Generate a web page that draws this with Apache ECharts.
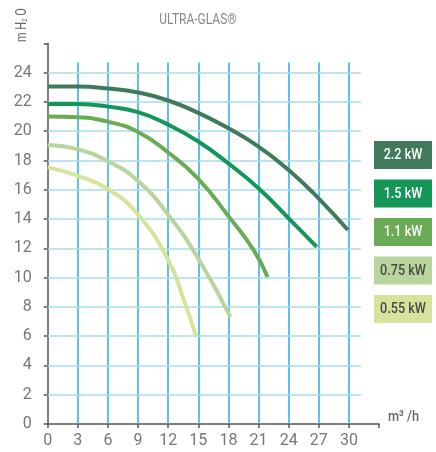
<!DOCTYPE html>
<html>
<head>
<meta charset="utf-8">
<script src="https://cdn.jsdelivr.net/npm/echarts@6/dist/echarts.min.js"></script>
<style>html,body{margin:0;padding:0;background:#fff}#c{width:436px;height:452px}</style>
</head>
<body>
<div id="c"></div>
<script>
// ---- data ----
const seriesNames = ['2.2 kW', '1.5 kW', '1.1 kW', '0.75 kW', '0.55 kW'];
const flow22 = [0, 3, 6, 9, 12, 15, 18, 21, 24, 27, 29.9];
const head22 = [23.05, 23.05, 22.92, 22.65, 22.1, 21.25, 20.2, 18.95, 17.35, 15.4, 13.25];
const flow15 = [0, 3, 6, 9, 12, 15, 18, 21, 24, 26.8];
const head15 = [21.86, 21.86, 21.68, 21.3, 20.45, 19.3, 17.8, 16.1, 14.05, 12.1];
const flow11 = [0, 3, 6, 9, 12, 15, 18, 20.5, 21.9];
const head11 = [21.0, 20.95, 20.65, 19.95, 18.55, 16.75, 14.2, 11.9, 10.05];
const flow075 = [0, 3, 6, 9, 12, 15, 18.2];
const head075 = [19.06, 18.76, 17.95, 16.6, 14.3, 11.3, 7.3];
const flow055 = [0, 3, 6, 9, 12, 13.5, 14.8];
const head055 = [17.55, 16.95, 16.05, 14.3, 11.2, 8.6, 5.95];
const xGridTicks = [3, 6, 9, 12, 15, 18, 21, 24, 27, 30];
const yGridTicks = [2, 4, 6, 8, 10, 12, 14, 16, 18, 20, 22, 24];
const titleText = 'ULTRA-GLAS®';
const xAxisTitle = 'm³ /h';

// ---- styles ----
const FONT = "Roboto, 'Liberation Sans', sans-serif";
const colors = ['#417a5a', '#149658', '#6aab56', '#b7d59d', '#d5e49a'];
const legendText = ['#ffffff', '#ffffff', '#ffffff', '#4a4a4a', '#4a4a4a'];
const flows = [flow22, flow15, flow11, flow075, flow055];
const heads = [head22, head15, head11, head075, head055];
const X_MAX = 33, Y_MAX = 26, V_TOP = 24.7, H_RIGHT = 31.2;

const chart = echarts.init(document.getElementById('c'), null, {renderer: 'canvas'});

const curveSeries = seriesNames.map((n, i) => ({
  name: n,
  type: 'line',
  data: flows[i].map((x, j) => [x, heads[i][j]]),
  smooth: true,
  symbol: 'none',
  z: 10 - i,
  lineStyle: {color: colors[i], width: 4, cap: 'butt'},
  animation: false
}));

const gridSeries = {
  type: 'line',
  data: [],
  silent: true,
  z: 1,
  animation: false,
  markLine: {
    silent: true,
    symbol: ['none', 'none'],
    label: {show: false},
    animation: false,
    data: [
      ...xGridTicks.map(x => [
        {coord: [x, 0], lineStyle: {color: '#2badde', width: 1.5, type: 'solid'}},
        {coord: [x, V_TOP]}
      ]),
      ...yGridTicks.map(y => [
        {coord: [0, y], lineStyle: {color: '#a7dbea', width: 1.5, type: 'solid'}},
        {coord: [H_RIGHT, y]}
      ])
    ]
  }
};

const legendGraphics = seriesNames.map((n, i) => ({
  type: 'group',
  x: 374,
  y: 141 + i * 38.5,
  children: [
    {type: 'rect', shape: {x: 0, y: 0, width: 58, height: 28}, style: {fill: colors[i]}},
    {type: 'text', x: 29, y: 14.5, scaleX: 0.84, style: {text: n, fill: legendText[i], font: '500 15px ' + FONT, align: 'center', verticalAlign: 'middle'}}
  ]
}));

chart.setOption({
  animation: false,
  grid: {left: 47.7, top: 43.4, width: 331.3, height: 380.6, containLabel: false},
  xAxis: {
    type: 'value', min: 0, max: X_MAX, interval: 3,
    axisLine: {show: true, lineStyle: {color: '#555', width: 1.5}},
    axisTick: {show: true, length: 4, lineStyle: {color: '#555', width: 1.5}},
    axisLabel: {
      color: '#777', fontSize: 16, fontFamily: FONT, margin: 9,
      formatter: v => (v === X_MAX ? '' : String(v))
    },
    splitLine: {show: false}
  },
  yAxis: {
    type: 'value', min: 0, max: Y_MAX, interval: 2,
    axisLine: {show: true, lineStyle: {color: '#555', width: 1.5}},
    axisTick: {show: true, length: 4, lineStyle: {color: '#555', width: 1.5}},
    axisLabel: {
      color: '#777', fontSize: 16, fontFamily: FONT, margin: 16,
      formatter: v => (v === Y_MAX ? '' : String(v))
    },
    splitLine: {show: false}
  },
  graphic: [
    {type: 'text', x: 198, y: 20, scaleX: 0.8, style: {text: titleText, fill: '#888', font: '15px ' + FONT, align: 'center', verticalAlign: 'middle'}},
    {type: 'text', x: 388, y: 417, scaleX: 0.85, style: {text: xAxisTitle, fill: '#666', font: '500 15px ' + FONT, align: 'left', verticalAlign: 'middle'}},
    {
      type: 'text', x: 22, y: 42, rotation: Math.PI / 2, scaleX: 0.78,
      style: {
        text: '{a|m H}{s|2}{a| O}',
        align: 'left', verticalAlign: 'middle',
        rich: {
          a: {fill: '#666', font: '14px ' + FONT},
          s: {fill: '#666', font: '8px ' + FONT, verticalAlign: 'bottom'}
        }
      }
    },
    ...legendGraphics
  ],
  series: [gridSeries, ...curveSeries]
});
</script>
</body>
</html>
